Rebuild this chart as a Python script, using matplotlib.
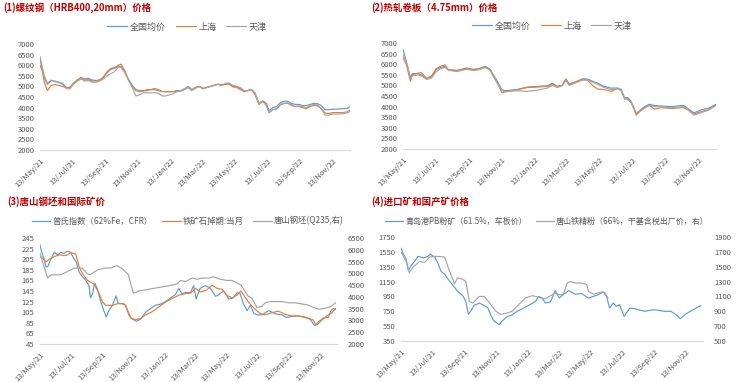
import matplotlib
matplotlib.use('Agg')
import matplotlib.pyplot as plt
import pandas as pd

plt.rcParams['font.family'] = ['Noto Sans CJK SC', 'DejaVu Sans']

BLUE = '#5B9BD5'
ORANGE = '#ED7D31'
GRAY = '#A5A5A5'
RED = '#C00000'
TXT = '#595959'

# ---- (1) rebar HRB400 20mm ----
rebar_dates = ['2021-05-13', '2021-05-17', '2021-05-21', '2021-05-27', '2021-06-03', '2021-06-10',
               '2021-06-17', '2021-06-24', '2021-07-01', '2021-07-08', '2021-07-15', '2021-07-22',
               '2021-07-29', '2021-08-05', '2021-08-12', '2021-08-19', '2021-08-26', '2021-09-02',
               '2021-09-09', '2021-09-16', '2021-09-23', '2021-09-30', '2021-10-07', '2021-10-12',
               '2021-10-19', '2021-10-26', '2021-11-02', '2021-11-09', '2021-11-16', '2021-11-23',
               '2021-11-30', '2021-12-07', '2021-12-14', '2021-12-21', '2021-12-28', '2022-01-04',
               '2022-01-11', '2022-01-18', '2022-01-25', '2022-02-01', '2022-02-08', '2022-02-15',
               '2022-02-22', '2022-03-01', '2022-03-08', '2022-03-15', '2022-03-22', '2022-03-29',
               '2022-04-05', '2022-04-12', '2022-04-19', '2022-04-26', '2022-05-03', '2022-05-10',
               '2022-05-17', '2022-05-24', '2022-05-31', '2022-06-07', '2022-06-14', '2022-06-21',
               '2022-06-28', '2022-07-05', '2022-07-12', '2022-07-17', '2022-07-24', '2022-07-31',
               '2022-08-07', '2022-08-14', '2022-08-21', '2022-08-28', '2022-09-04', '2022-09-11',
               '2022-09-18', '2022-09-25', '2022-10-02', '2022-10-09', '2022-10-16', '2022-10-23',
               '2022-10-30', '2022-11-06', '2022-11-13', '2022-11-20', '2022-11-27', '2022-12-04',
               '2022-12-11', '2022-12-16']
rebar_avg = [6350, 5800, 5400, 5100, 5280, 5250, 5200, 5150, 4950, 4950, 5150, 5300,
             5420, 5350, 5380, 5300, 5280, 5300, 5420, 5650, 5800, 5850, 5950, 5950,
             5700, 5350, 5050, 4850, 4800, 4800, 4800, 4850, 4850, 4800, 4760, 4750,
             4750, 4760, 4800, 4800, 4880, 5000, 4850, 4950, 5000, 4900, 4950, 5000,
             5050, 5100, 5050, 5100, 5150, 5000, 5000, 4900, 4800, 4800, 4850, 4650,
             4200, 4320, 4200, 3850, 4000, 4050, 4220, 4300, 4300, 4200, 4150, 4150,
             4100, 4100, 4150, 4200, 4180, 4100, 3900, 3900, 3920, 3930, 3940, 3950,
             3960, 4050]
rebar_sh = [6000, 5750, 5200, 4800, 5050, 5080, 5050, 5000, 4950, 4950, 5150, 5300,
            5400, 5300, 5320, 5250, 5250, 5300, 5450, 5700, 5850, 5880, 6000, 6050,
            5750, 5300, 5000, 4800, 4750, 4780, 4850, 4850, 4900, 4850, 4760, 4750,
            4750, 4750, 4760, 4780, 4850, 4950, 4800, 4950, 5000, 4900, 4950, 5000,
            5050, 5100, 5080, 5100, 5100, 4980, 4950, 4850, 4750, 4800, 4850, 4600,
            4150, 4300, 4150, 3780, 3900, 3950, 4120, 4200, 4200, 4100, 4050, 4050,
            4000, 3950, 4050, 4100, 4080, 3950, 3750, 3720, 3760, 3770, 3760, 3770,
            3800, 3880]
rebar_tj = [6400, 5950, 5500, 5150, 5300, 5220, 5180, 5100, 4900, 4880, 5100, 5250,
            5350, 5250, 5270, 5200, 5200, 5250, 5350, 5500, 5600, 5700, 5900, 5900,
            5650, 5300, 4950, 4550, 4600, 4700, 4700, 4700, 4700, 4680, 4550, 4550,
            4600, 4650, 4750, 4780, 4850, 4950, 4850, 4900, 5000, 4880, 4950, 5000,
            5050, 5100, 5050, 5150, 5150, 5050, 5000, 4950, 4800, 4800, 4850, 4700,
            4150, 4280, 4100, 3750, 3900, 3950, 4150, 4200, 4220, 4150, 4050, 4080,
            4050, 4000, 4100, 4150, 4120, 3950, 3650, 3650, 3700, 3700, 3700, 3720,
            3750, 3820]

# ---- (2) hot rolled coil 4.75mm ----
hrc_dates = ['2021-05-13', '2021-05-19', '2021-05-27', '2021-05-30', '2021-06-10', '2021-06-16',
             '2021-06-26', '2021-07-05', '2021-07-14', '2021-07-22', '2021-07-30', '2021-08-05',
             '2021-08-21', '2021-09-08', '2021-09-21', '2021-10-03', '2021-10-13', '2021-10-22',
             '2021-11-03', '2021-11-13', '2021-11-19', '2021-12-11', '2021-12-30', '2022-01-17',
             '2022-02-05', '2022-02-15', '2022-02-24', '2022-03-05', '2022-03-12', '2022-03-18',
             '2022-04-02', '2022-04-12', '2022-04-21', '2022-05-01', '2022-05-10', '2022-05-22',
             '2022-06-04', '2022-06-16', '2022-06-23', '2022-06-29', '2022-07-05', '2022-07-11',
             '2022-07-21', '2022-07-27', '2022-08-05', '2022-08-14', '2022-08-24', '2022-09-05',
             '2022-09-24', '2022-10-16', '2022-10-25', '2022-11-05', '2022-11-19', '2022-12-02',
             '2022-12-16']
hrc_avg = [6700, 6150, 5350, 5550, 5550, 5500, 5320, 5400, 5750, 5850, 5900, 5750,
           5700, 5820, 5750, 5800, 5900, 5750, 5250, 4800, 4750, 4800, 4920, 4950,
           4980, 5100, 4950, 5000, 5300, 5050, 5200, 5310, 5300, 5190, 5100, 4950,
           4870, 4880, 4800, 4420, 4420, 4250, 3620, 3800, 4000, 4110, 4050, 4030,
           4000, 4060, 3900, 3700, 3850, 3920, 4110]
hrc_sh = [6300, 6000, 5180, 5500, 5580, 5600, 5330, 5450, 5800, 5900, 5970, 5750,
          5700, 5800, 5750, 5800, 5850, 5750, 5200, 4650, 4700, 4800, 4900, 4920,
          4950, 5050, 4950, 5000, 5300, 5050, 5200, 5280, 5250, 4980, 4830, 4800,
          4720, 4850, 4750, 4350, 4400, 4200, 3680, 3800, 3950, 4060, 3880, 3950,
          3910, 3950, 3850, 3640, 3770, 3850, 4100]
hrc_tj = [6450, 6100, 5300, 5450, 5500, 5450, 5280, 5350, 5650, 5800, 5850, 5720,
          5650, 5760, 5700, 5750, 5850, 5700, 5150, 4750, 4700, 4750, 4720, 4770,
          4870, 5000, 4900, 4980, 5220, 5000, 5150, 5250, 5250, 5150, 5050, 4900,
          4800, 4850, 4750, 4400, 4320, 4200, 3600, 3750, 3920, 4050, 4000, 3980,
          3950, 4000, 3850, 3600, 3720, 3830, 4050]

# ---- (3) Platts 62% / iron ore swap / Tangshan billet ----
platts_dates = ['2021-05-13', '2021-05-16', '2021-05-21', '2021-05-25', '2021-05-29', '2021-06-03',
                '2021-06-10', '2021-06-16', '2021-06-23', '2021-06-29', '2021-07-06', '2021-07-12',
                '2021-07-19', '2021-07-23', '2021-07-29', '2021-08-04', '2021-08-11', '2021-08-17',
                '2021-08-20', '2021-08-24', '2021-08-28', '2021-09-02', '2021-09-09', '2021-09-15',
                '2021-09-20', '2021-09-25', '2021-10-02', '2021-10-09', '2021-10-13', '2021-10-21',
                '2021-10-28', '2021-11-03', '2021-11-10', '2021-11-18', '2021-11-26', '2021-12-06',
                '2021-12-16', '2021-12-25', '2022-01-04', '2022-01-14', '2022-01-24', '2022-02-02',
                '2022-02-09', '2022-02-15', '2022-02-22', '2022-03-04', '2022-03-10', '2022-03-15',
                '2022-03-23', '2022-04-02', '2022-04-12', '2022-04-22', '2022-04-28', '2022-05-08',
                '2022-05-18', '2022-05-27', '2022-06-03', '2022-06-09', '2022-06-16', '2022-06-23',
                '2022-06-29', '2022-07-06', '2022-07-12', '2022-07-22', '2022-08-04', '2022-08-17',
                '2022-08-30', '2022-09-08', '2022-09-18', '2022-10-01', '2022-10-14', '2022-10-24',
                '2022-11-02', '2022-11-08', '2022-11-16', '2022-11-26', '2022-12-05', '2022-12-13']
platts_62 = [232, 220, 205, 190, 192, 205, 218, 213, 218, 216, 220, 218,
             205, 200, 180, 172, 165, 155, 132, 140, 160, 150, 125, 108,
             96, 108, 118, 136, 122, 121, 118, 100, 92, 88, 92, 105,
             112, 118, 120, 125, 132, 138, 150, 140, 142, 142, 155, 130,
             150, 155, 150, 135, 138, 145, 130, 132, 142, 140, 120, 108,
             118, 103, 100, 100, 108, 102, 100, 95, 97, 98, 95, 92,
             80, 82, 90, 98, 103, 112]
swap_dates = ['2021-05-13', '2021-05-18', '2021-05-25', '2021-05-31', '2021-06-10', '2021-06-20',
              '2021-07-03', '2021-07-12', '2021-07-22', '2021-07-29', '2021-08-04', '2021-08-14',
              '2021-08-27', '2021-09-06', '2021-09-12', '2021-09-19', '2021-10-02', '2021-10-12',
              '2021-10-25', '2021-10-31', '2021-11-07', '2021-11-16', '2021-11-26', '2021-12-06',
              '2021-12-19', '2022-01-01', '2022-01-14', '2022-01-27', '2022-02-09', '2022-02-22',
              '2022-03-04', '2022-03-14', '2022-03-23', '2022-04-05', '2022-04-15', '2022-04-25',
              '2022-05-05', '2022-05-14', '2022-05-24', '2022-06-03', '2022-06-11', '2022-06-19',
              '2022-06-29', '2022-07-09', '2022-07-18', '2022-07-28', '2022-08-10', '2022-08-23',
              '2022-09-05', '2022-09-18', '2022-10-01', '2022-10-14', '2022-10-31', '2022-11-04',
              '2022-11-11', '2022-11-19', '2022-11-29', '2022-12-04', '2022-12-09', '2022-12-13']
swap_front = [210, 207, 200, 205, 210, 213, 212, 217, 215, 190, 178, 165,
              158, 140, 125, 118, 118, 121, 121, 110, 94, 91, 93, 100,
              106, 115, 124, 131, 137, 140, 141, 150, 143, 147, 156, 150,
              148, 137, 132, 137, 145, 133, 120, 110, 103, 100, 104, 107,
              101, 98, 98, 96, 90, 82, 88, 94, 95, 108, 112, 110]
billet_dates = ['2021-05-13', '2021-05-18', '2021-05-25', '2021-05-28', '2021-06-03', '2021-06-23',
                '2021-07-06', '2021-07-19', '2021-08-04', '2021-08-13', '2021-08-19', '2021-09-03',
                '2021-09-16', '2021-09-29', '2021-10-11', '2021-10-21', '2021-11-02', '2021-11-12',
                '2021-11-23', '2021-12-06', '2021-12-19', '2022-01-01', '2022-01-14', '2022-01-27',
                '2022-02-06', '2022-02-12', '2022-02-22', '2022-03-07', '2022-03-17', '2022-03-26',
                '2022-04-08', '2022-04-18', '2022-05-01', '2022-05-14', '2022-05-24', '2022-06-03',
                '2022-06-11', '2022-06-18', '2022-06-24', '2022-07-02', '2022-07-12', '2022-07-22',
                '2022-07-28', '2022-08-07', '2022-08-17', '2022-08-30', '2022-09-12', '2022-09-25',
                '2022-10-08', '2022-10-21', '2022-10-31', '2022-11-10', '2022-11-19', '2022-11-29',
                '2022-12-05', '2022-12-13']
billet_q235 = [5850, 5500, 5000, 4800, 4930, 4940, 5080, 5220, 5220, 5000, 4940, 5150,
               5220, 5230, 5330, 5200, 4950, 4150, 4250, 4300, 4350, 4400, 4450, 4500,
               4550, 4700, 4650, 4800, 4750, 4800, 4800, 4850, 4750, 4700, 4700, 4600,
               4500, 4250, 4050, 3950, 3550, 3600, 3750, 3800, 3800, 3800, 3750, 3750,
               3700, 3650, 3550, 3480, 3500, 3550, 3600, 3750]

# ---- (4) Qingdao PB fines / Tangshan concentrate ----
pb_dates = ['2021-05-13', '2021-05-17', '2021-05-23', '2021-05-27', '2021-06-02', '2021-06-08',
            '2021-06-15', '2021-06-25', '2021-07-04', '2021-07-08', '2021-07-17', '2021-07-23',
            '2021-07-29', '2021-08-05', '2021-08-11', '2021-08-21', '2021-08-30', '2021-09-09',
            '2021-09-15', '2021-09-20', '2021-09-25', '2021-10-01', '2021-10-11', '2021-10-20',
            '2021-10-27', '2021-11-02', '2021-11-08', '2021-11-18', '2021-11-24', '2021-12-04',
            '2021-12-13', '2021-12-23', '2022-01-01', '2022-01-14', '2022-01-27', '2022-02-02',
            '2022-02-09', '2022-02-15', '2022-02-25', '2022-03-06', '2022-03-14', '2022-03-20',
            '2022-03-26', '2022-04-01', '2022-04-14', '2022-04-26', '2022-05-09', '2022-05-19',
            '2022-05-28', '2022-06-07', '2022-06-13', '2022-06-19', '2022-06-26', '2022-07-02',
            '2022-07-08', '2022-07-17', '2022-07-28', '2022-08-06', '2022-08-25', '2022-09-13',
            '2022-10-02', '2022-10-15', '2022-10-25', '2022-11-02', '2022-11-13', '2022-11-22',
            '2022-12-05', '2022-12-12']
pb_fines = [1600, 1530, 1450, 1300, 1370, 1420, 1490, 1470, 1490, 1520, 1480, 1400,
            1290, 1250, 1190, 1100, 1020, 960, 880, 710, 760, 830, 860, 830,
            800, 700, 620, 570, 620, 680, 700, 750, 780, 830, 880, 950,
            930, 862, 875, 1028, 929, 965, 996, 1028, 980, 990, 929, 951,
            973, 1010, 951, 794, 862, 817, 839, 682, 794, 785, 750, 772,
            750, 750, 705, 650, 714, 750, 803, 825]
conc_dates = ['2021-05-13', '2021-05-17', '2021-05-24', '2021-05-29', '2021-06-06', '2021-06-18',
              '2021-06-28', '2021-07-07', '2021-07-20', '2021-08-05', '2021-08-14', '2021-08-24',
              '2021-08-30', '2021-09-09', '2021-09-15', '2021-09-22', '2021-09-28', '2021-10-11',
              '2021-10-20', '2021-10-30', '2021-11-12', '2021-11-21', '2021-12-01', '2021-12-13',
              '2021-12-26', '2022-01-08', '2022-01-21', '2022-02-02', '2022-02-15', '2022-03-06',
              '2022-03-16', '2022-03-22', '2022-03-29', '2022-04-04', '2022-04-14', '2022-04-26',
              '2022-05-06', '2022-05-09', '2022-05-19', '2022-06-03', '2022-06-10', '2022-06-16']
conc_66 = [1700, 1650, 1550, 1420, 1500, 1570, 1560, 1630, 1640, 1630, 1450, 1270,
           1350, 1330, 1300, 1030, 1010, 1100, 1100, 1020, 900, 860, 870, 900,
           990, 1080, 1110, 1090, 1065, 1146, 1120, 1130, 1280, 1300, 1280, 1280,
           1260, 1170, 1130, 1160, 1150, 1080]

X0 = pd.Timestamp('2021-05-13')
X1 = pd.Timestamp('2022-12-16')
TICKS = pd.date_range(X0, periods=10, freq=pd.DateOffset(months=2))


def style(ax, ymin, ymax, step):
    ax.set_xlim(X0, X1)
    ax.set_ylim(ymin, ymax)
    ax.set_yticks(range(ymin, ymax + 1, step))
    ax.set_xticks(TICKS)
    ax.set_xticklabels([t.strftime('%d/%b/%y') for t in TICKS], rotation=45,
                       ha='right', rotation_mode='anchor')
    for s in ['top', 'right', 'left']:
        ax.spines[s].set_visible(False)
    ax.spines['bottom'].set_color('#D9D9D9')
    ax.spines['bottom'].set_linewidth(0.8)
    ax.tick_params(length=0, labelsize=5.5, labelcolor=TXT, pad=4)
    ax.tick_params(axis='x', pad=5)


def legend(handles, labels, x, y, size=6.5):
    fig.legend(handles, labels, loc='center', bbox_to_anchor=(x, y), ncol=len(handles),
               frameon=False, fontsize=size, labelcolor=TXT, handlelength=2.2,
               handletextpad=0.3, columnspacing=1.1, borderaxespad=0)


W, H = 742, 382
fig = plt.figure(figsize=(W / 100, H / 100), dpi=100)
LW = 0.85
TSIZE = 6.8

# panel 1
ax1 = fig.add_axes([40 / W, 1 - 150 / H, 310 / W, 106 / H])
l1 = ax1.plot(pd.to_datetime(rebar_dates), rebar_avg, color=BLUE, lw=LW)[0]
l2 = ax1.plot(pd.to_datetime(rebar_dates), rebar_sh, color=ORANGE, lw=LW)[0]
l3 = ax1.plot(pd.to_datetime(rebar_dates), rebar_tj, color=GRAY, lw=LW)[0]
style(ax1, 2000, 7000, 500)
fig.text(3 / W, 1 - 8 / H, '(1)螺纹钢（HRB400,20mm）价格', color=RED, fontsize=TSIZE,
         fontweight='bold', va='center')
legend([l1, l2, l3], ['全国均价', '上海', '天津'], 187 / W, 1 - 27 / H)

# panel 2
ax2 = fig.add_axes([403 / W, 1 - 149 / H, 313 / W, 106 / H])
l1 = ax2.plot(pd.to_datetime(hrc_dates), hrc_avg, color=BLUE, lw=LW)[0]
l2 = ax2.plot(pd.to_datetime(hrc_dates), hrc_sh, color=ORANGE, lw=LW)[0]
l3 = ax2.plot(pd.to_datetime(hrc_dates), hrc_tj, color=GRAY, lw=LW)[0]
style(ax2, 2000, 7000, 500)
fig.text(371 / W, 1 - 8 / H, '(2)热轧卷板（4.75mm）价格', color=RED, fontsize=TSIZE,
         fontweight='bold', va='center')
legend([l1, l2, l3], ['全国均价', '上海', '天津'], 552 / W, 1 - 26 / H)

# panel 3
ax3 = fig.add_axes([40 / W, 1 - 344 / H, 297 / W, 106 / H])
ax3r = ax3.twinx()
l1 = ax3.plot(pd.to_datetime(platts_dates), platts_62, color=BLUE, lw=LW)[0]
l2 = ax3.plot(pd.to_datetime(swap_dates), swap_front, color=ORANGE, lw=LW)[0]
l3 = ax3r.plot(pd.to_datetime(billet_dates), billet_q235, color=GRAY, lw=LW)[0]
style(ax3, 45, 245, 20)
style(ax3r, 2000, 6500, 500)
ax3r.tick_params(axis='y', pad=8)
fig.text(7 / W, 1 - 202 / H, '(3)唐山钢坯和国际矿价', color=RED, fontsize=TSIZE,
         fontweight='bold', va='center')
legend([l1, l2, l3], ['普氏指数（62%Fe，CFR）', '铁矿石掉期:当月', '唐山钢坯(Q235,右)'],
       188 / W, 1 - 221 / H, size=6.0)

# panel 4
ax4 = fig.add_axes([401 / W, 1 - 341 / H, 302 / W, 104 / H])
ax4r = ax4.twinx()
l1 = ax4.plot(pd.to_datetime(pb_dates), pb_fines, color=BLUE, lw=LW)[0]
l2 = ax4r.plot(pd.to_datetime(conc_dates), conc_66, color=GRAY, lw=LW)[0]
style(ax4, 350, 1750, 200)
style(ax4r, 500, 1900, 200)
ax4r.tick_params(axis='y', pad=8)
fig.text(371 / W, 1 - 202 / H, '(4)进口矿和国产矿价格', color=RED, fontsize=TSIZE,
         fontweight='bold', va='center')
legend([l1, l2], ['青岛港PB粉矿（61.5%，车板价）', '唐山铁精粉（66%，干基含税出厂价，右）'],
       547 / W, 1 - 221 / H, size=5.8)

fig.savefig('out.png', dpi=100)
